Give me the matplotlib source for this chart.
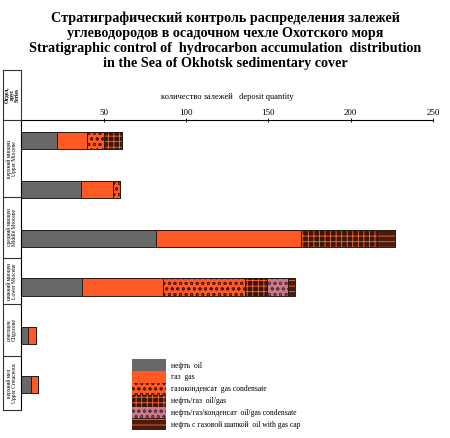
import numpy as np
import matplotlib
matplotlib.use("Agg")
from matplotlib import pyplot as plt
from matplotlib.lines import Line2D
from matplotlib.patches import Patch

# deposits per stratigraphic level (top to bottom)
oil = [22, 36, 82, 37, 4, 6]
gas = [18, 20, 88, 49, 5, 4]
gas_cond = [10, 4, 0, 50, 0, 0]
oil_gas = [11, 0, 46, 13, 0, 0]
oil_gas_cond = [0, 0, 0, 13, 0, 0]
oil_gas_cap = [0, 0, 11, 4, 0, 0]

series = [oil, gas, gas_cond, oil_gas, oil_gas_cond, oil_gas_cap]
labels = ["нефть  oil", "газ  gas", "газоконденсат  gas condensate",
          "нефть/газ  oil/gas", "нефть/газ/конденсат  oil/gas condensate",
          "нефть с газовой шапкой  oil with gas cap"]
ticks = [50, 100, 150, 200, 250]

group_names = ["верхний миоцен\nUpper Miocene", "средний миоцен\nMiddle Miocene",
               "нижний миоцен\nLower Miocene", "олигоцен\nOligocene",
               "верхний мел\nUpper Cretaceous"]

# face, hatch, hatch colour
styles = [("#686868", None, "#686868"),
          ("#ff5a24", None, "#ff5a24"),
          ("#ff5a24", "ooo", "#4a1a0c"),
          ("#3a160c", "+++", "#ff6a2a"),
          ("#c87a8a", "ooo", "#5a3040"),
          ("#4a1c0e", "---", "#ff6a2a")]

W, H = 450, 438
fx = lambda px: px / W
fy = lambda py: 1 - py / H

plt.rcParams['font.family'] = ['Liberation Serif', 'DejaVu Serif']
plt.rcParams['hatch.linewidth'] = 0.6

fig = plt.figure(figsize=(4.5, 4.38), dpi=100)
ax = fig.add_axes([fx(21.2), fy(410), fx(433.2) - fx(21.2), fy(120) - fy(410)])

y = np.arange(len(oil))
left = np.zeros(len(oil))
for vals, (fc, hatch, hc) in zip(series, styles):
    vals = np.array(vals, dtype=float)
    ax.barh(y, vals, left=left, height=0.35, color=fc, hatch=hatch,
            edgecolor=hc, linewidth=0)
    ax.barh(y, vals, left=left, height=0.35, fill=False,
            edgecolor="#2a1a14", linewidth=0.7)
    left += vals

ax.set_xlim(0, 250)
ax.set_ylim(5.52, -0.42)
ax.xaxis.tick_top()
ax.xaxis.set_label_position("top")
ax.set_xticks(ticks)
ax.set_xticklabels([str(t) for t in ticks], fontsize=6.5)
ax.tick_params(axis="x", direction="inout", length=3, width=0.6, pad=1)
ax.set_yticks([])
ax.set_xlabel("количество залежей   deposit quantity", fontsize=6, labelpad=7)
for s in ["right", "bottom"]:
    ax.spines[s].set_visible(False)
for s in ["top", "left"]:
    ax.spines[s].set_linewidth(0.8)

fig.text(0.5, fy(40.5), "Стратиграфический контроль распределения залежей\n"
         "углеводородов в осадочном чехле Охотского моря\n"
         "Stratigraphic control of  hydrocarbon accumulation  distribution\n"
         "in the Sea of Okhotsk sedimentary cover",
         ha="center", va="center", fontsize=10.2, fontweight="bold", linespacing=1.2)

# left stratigraphic column
edges = [70, 120, 197, 258, 304, 356, 410]
fig.add_artist(Line2D([fx(3), fx(3)], [fy(70), fy(410)], color="#333333", lw=0.8))
fig.add_artist(Line2D([fx(21.2), fx(21.2)], [fy(70), fy(120)], color="#333333", lw=0.8))
for e in edges:
    fig.add_artist(Line2D([fx(3), fx(21.2)], [fy(e), fy(e)], color="#333333", lw=0.8))
fig.text(fx(12), fy(95), "Отдел,\nярус\nSeries", rotation=90, ha="center",
         va="center", fontsize=4, fontweight="bold", linespacing=1.0)
for i, name in enumerate(group_names):
    mid = (edges[i + 1] + edges[i + 2]) / 2
    fig.text(fx(12), fy(mid), name, rotation=90, ha="center", va="center",
             fontsize=4, linespacing=1.1)

handles = [Patch(facecolor=fc, hatch=h, edgecolor=hc, linewidth=0)
           for fc, h, hc in styles]
fig.legend(handles, labels, loc="upper left", bbox_to_anchor=(fx(127), fy(354)),
           frameon=False, fontsize=5.5, handlelength=4.4, handleheight=2.0,
           labelspacing=0.0, handletextpad=0.6, borderpad=0.2)

fig.savefig("out.png", dpi=100)
